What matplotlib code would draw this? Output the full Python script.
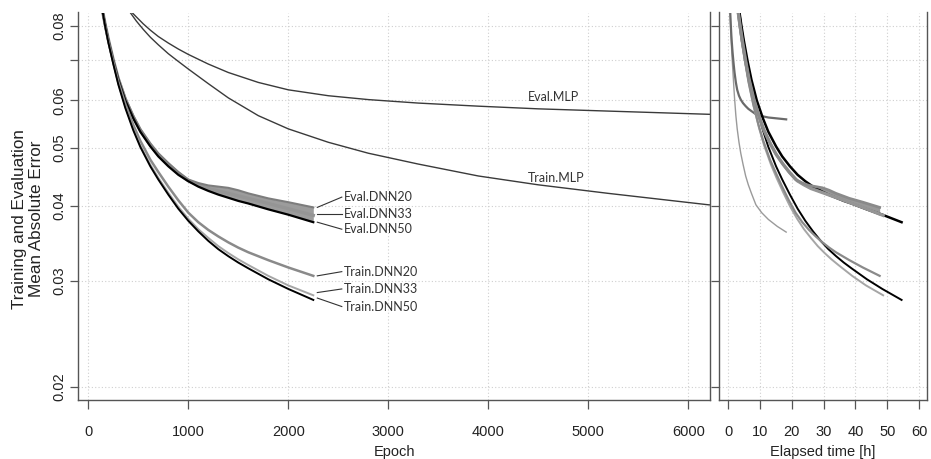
import numpy as np
import matplotlib
matplotlib.use("Agg")
import matplotlib.pyplot as plt

# ---------------- data ----------------
epochs_dnn = [140, 170, 200, 250, 300, 370, 450, 520, 620, 700, 800, 900, 1000,
              1100, 1200, 1300, 1400, 1500, 1600, 1800, 2000, 2250]
eval_dnn50 = [0.085, 0.0800, 0.0757, 0.0698, 0.0650, 0.0600, 0.0560, 0.0532, 0.0503,
              0.0484, 0.0466, 0.0451, 0.0440, 0.0431, 0.0424, 0.0418, 0.0413, 0.0408,
              0.0404, 0.0395, 0.0387, 0.0376]
eval_dnn33 = [0.085, 0.0801, 0.0759, 0.0700, 0.0652, 0.0603, 0.0563, 0.0535, 0.0506,
              0.0487, 0.0469, 0.0454, 0.0441, 0.0434, 0.0428, 0.0424, 0.0420, 0.0416,
              0.0412, 0.0404, 0.0396, 0.0386]
eval_dnn20 = [0.085, 0.0803, 0.0761, 0.0703, 0.0655, 0.0606, 0.0566, 0.0538, 0.0509,
              0.0490, 0.0472, 0.0456, 0.0443, 0.0437, 0.0433, 0.0431, 0.0429, 0.0425,
              0.0420, 0.0412, 0.0406, 0.0398]
train_dnn50 = [0.085, 0.0795, 0.0750, 0.0690, 0.0638, 0.0583, 0.0535, 0.0502, 0.0466,
               0.0443, 0.0418, 0.0396, 0.0378, 0.0363, 0.0350, 0.0339, 0.0330, 0.0322,
               0.0315, 0.0302, 0.0291, 0.0279]
train_dnn33 = [0.085, 0.0796, 0.0752, 0.0692, 0.0640, 0.0586, 0.0538, 0.0505, 0.0469,
               0.0446, 0.0421, 0.0399, 0.0381, 0.0366, 0.0354, 0.0343, 0.0334, 0.0326,
               0.0319, 0.0306, 0.0295, 0.0284]
train_dnn20 = [0.085, 0.0798, 0.0755, 0.0696, 0.0645, 0.0592, 0.0546, 0.0514, 0.0478,
               0.0456, 0.0431, 0.0409, 0.0390, 0.0376, 0.0365, 0.0356, 0.0348, 0.0341,
               0.0335, 0.0325, 0.0316, 0.0306]

epochs_mlp = [410, 480, 550, 620, 700, 800, 900, 1000, 1200, 1400, 1700, 2000, 2400,
              2800, 3300, 3900, 4500, 5200, 6200, 7500, 9000, 11000, 13000]
eval_mlp = [0.0850, 0.0827, 0.0805, 0.0786, 0.0767, 0.0748, 0.0731, 0.0716, 0.0690,
            0.0668, 0.0643, 0.0625, 0.0611, 0.0602, 0.0594, 0.0587, 0.0581, 0.0576,
            0.0569, 0.0565, 0.0562, 0.0560, 0.0558]
train_mlp = [0.0845, 0.0814, 0.0788, 0.0765, 0.0743, 0.0718, 0.0697, 0.0677, 0.0640,
             0.0606, 0.0566, 0.0538, 0.0511, 0.0490, 0.0470, 0.0449, 0.0434, 0.0420,
             0.0402, 0.0390, 0.0380, 0.0370, 0.0362]

# total training time (hours) of each model's run
hours_dnn20 = 47.6
hours_dnn33 = 48.7
hours_dnn50 = 54.5
hours_mlp = 18.2

x_ticks_epoch = [0, 1000, 2000, 3000, 4000, 5000, 6000]
x_ticks_hours = [0, 10, 20, 30, 40, 50, 60]
y_ticks = [0.02, 0.03, 0.04, 0.05, 0.06, 0.07, 0.08]
y_ticklabels = ["0.02", "0.03", "0.04", "0.05", "0.06", "", "0.08"]

labels_eval = ["Eval.DNN20", "Eval.DNN33", "Eval.DNN50"]
labels_train = ["Train.DNN20", "Train.DNN33", "Train.DNN50"]

# ---------------- styling ----------------
W, H = 931, 459
fig = plt.figure(figsize=(W / 100, H / 100), dpi=100)
plt.rcParams["font.family"] = ["Liberation Sans", "DejaVu Sans"]

def frac(x0, y0, x1, y1):
    return [x0 / W, 1 - y1 / H, (x1 - x0) / W, (y1 - y0) / H]

axL = fig.add_axes(frac(78.3, 12.5, 710, 400))
axR = fig.add_axes(frac(719.3, 12.5, 926.7, 400))

C20 = "#8a8a8a"
C33 = "#a6a6a6"
C50 = "#000000"
CMLP = "#3a3a3a"
SPINE = "#555555"
GRID = "#cfcfcf"
TXT = "#222222"

ylim = (0.0190, 0.0841)

for ax in (axL, axR):
    ax.set_yscale("log")
    ax.set_ylim(*ylim)
    ax.minorticks_off()
    ax.set_yticks(y_ticks)
    ax.grid(True, color=GRID, linestyle=(0, (1, 2)), linewidth=0.8)
    ax.set_axisbelow(True)
    ax.spines["top"].set_visible(False)
    for s in ("left", "right", "bottom"):
        ax.spines[s].set_color(SPINE)
        ax.spines[s].set_linewidth(1.0)
    ax.tick_params(axis="x", length=6.5, width=0.9, color=SPINE, pad=11.5,
                   labelsize=10.5, labelcolor=TXT)
    ax.tick_params(axis="y", length=5.8, width=0.9, color=SPINE, pad=3,
                   labelsize=10.5, labelcolor=TXT)

axL.set_yticklabels(y_ticklabels, rotation=90, va="center")
axR.set_yticklabels([])

ep = np.array(epochs_dnn, dtype=float)
epm = np.array(epochs_mlp, dtype=float)

# ---------- left panel (epoch) ----------
axL.set_xlim(-100, 6217)
axL.set_xticks(x_ticks_epoch)
axL.plot(epm, eval_mlp, color=CMLP, lw=1.0)
axL.plot(epm, train_mlp, color=CMLP, lw=1.0)

band = ep >= 950
axL.fill_between(ep, eval_dnn50, eval_dnn20, where=band, color="#9c9c9c", lw=0)
axL.plot(ep, eval_dnn33, color="#959595", lw=2.4)
axL.plot(ep, eval_dnn20, color="#7d7d7d", lw=1.5)
axL.plot(ep, eval_dnn50, color=C50, lw=1.6)
axL.plot(ep, train_dnn20, color=C20, lw=1.8)
axL.plot(ep, train_dnn33, color=C33, lw=1.4)
axL.plot(ep, train_dnn50, color=C50, lw=1.4)

lab_font = dict(family=["Lato", "DejaVu Sans"], fontsize=9, color="#333333")
axL.text(4650, 0.0608, "Eval.MLP", ha="center", va="center", **lab_font)
axL.text(4680, 0.0446, "Train.MLP", ha="center", va="center", **lab_font)

leader_start = [0.0398, 0.0388, 0.0376, 0.0306, 0.0287, 0.0281]
leader_end = [0.0414, 0.0388, 0.0366, 0.0311, 0.0291, 0.0272]
for lab, y0, y1 in zip(labels_eval + labels_train, leader_start, leader_end):
    axL.plot([2290, 2535], [y0, y1], color="#333333", lw=0.8)
    axL.text(2555, y1, lab, ha="left", va="center", **lab_font)

axL.set_xlabel("Epoch", fontsize=10.5, labelpad=4, color=TXT)

# ---------- right panel (elapsed time) ----------
axR.set_xlim(-2.83, 62.4)
axR.set_xticks(x_ticks_hours)

t20 = ep * hours_dnn20 / ep[-1]
t33 = ep * hours_dnn33 / ep[-1]
t50 = ep * hours_dnn50 / ep[-1]
tm = epm * hours_mlp / epm[-1]

axR.plot(tm, train_mlp, color="#9a9a9a", lw=1.0)
axR.plot(tm, eval_mlp, color="#6a6a6a", lw=1.6)
axR.plot(t50, eval_dnn50, color=C50, lw=1.8)
axR.plot(t50, train_dnn50, color=C50, lw=1.4)
axR.fill_between(t20, eval_dnn33, eval_dnn20, where=band, color="#999999", lw=0)
axR.plot(t33, eval_dnn33, color="#959595", lw=2.4)
axR.plot(t20, eval_dnn20, color="#8a8a8a", lw=2.0)
axR.plot(t33, train_dnn33, color=C33, lw=1.4)
axR.plot(t20, train_dnn20, color=C20, lw=1.6)

axR.set_xlabel("Elapsed time [h]", fontsize=10.5, labelpad=4, color=TXT)

fig.text(28 / W, 1 - 219 / H, "Training and Evaluation\nMean Absolute Error",
         rotation=90, ha="center", va="center", fontsize=12.3, color=TXT,
         linespacing=1.1)

fig.savefig("out.png", dpi=100)
